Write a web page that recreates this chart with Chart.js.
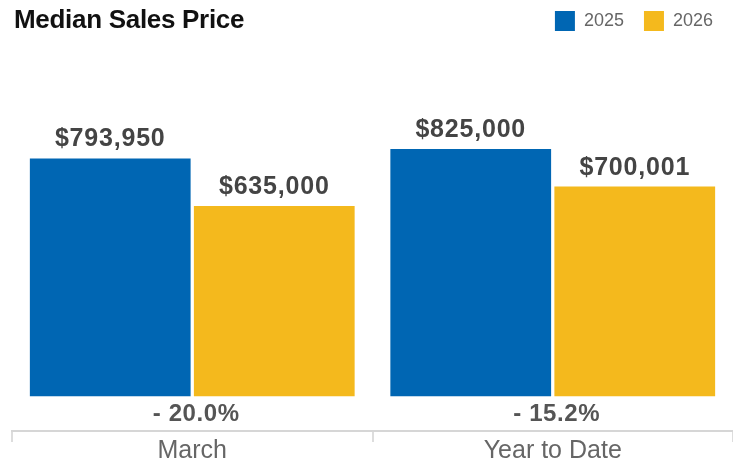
<!DOCTYPE html>
<html>
<head>
<meta charset="utf-8">
<script src="https://cdn.jsdelivr.net/npm/chart.js@4.4.1/dist/chart.umd.min.js"></script>
<style>
  html, body { margin: 0; padding: 0; background: #fff; }
  #wrap { position: relative; width: 733px; height: 464px; overflow: hidden; }
  #chart { position: absolute; left: 0; top: -9px; }
  #title { position: absolute; left: 14px; top: 6px; margin: 0;
    font-family: "Liberation Sans", Arial, sans-serif; font-weight: bold;
    font-size: 26px; line-height: 26px; letter-spacing: -0.3px; color: #111; z-index: 2; }
</style>
</head>
<body>
<div id="wrap">
  <div id="title">Median Sales Price</div>
  <canvas id="chart" width="733" height="473"></canvas>
</div>
<script>
const categories = ['March', 'Year to Date'];
const seriesNames = ['2025', '2026'];
const values2025 = [793950, 825000];
const values2026 = [635000, 700001];
const seriesColors = ['#0066b3', '#f4b91d'];

const fontFamily = '"Liberation Sans", Arial, Helvetica, sans-serif';

function money(v) { return '$' + v.toLocaleString('en-US'); }
function pctLabel(a, b) {
  const p = (b - a) / a * 100;
  return (p < 0 ? '- ' : '+ ') + Math.abs(p).toFixed(1) + '%';
}

const labelPlugin = {
  id: 'labels',
  afterDatasetsDraw(chart) {
    const ctx = chart.ctx;
    ctx.save();
    ctx.textAlign = 'center';
    ctx.textBaseline = 'alphabetic';
    ctx.fillStyle = '#444';
    ctx.font = 'bold 25px ' + fontFamily;
    ctx.letterSpacing = '0.8px';
    chart.data.datasets.forEach((ds, di) => {
      const meta = chart.getDatasetMeta(di);
      meta.data.forEach((bar, i) => {
        ctx.fillText(money(ds.data[i]), bar.x, bar.y - 12);
      });
    });
    const xs = chart.scales.x, ys = chart.scales.y;
    ctx.fillStyle = '#555';
    ctx.font = 'bold 24px ' + fontFamily;
    ctx.letterSpacing = '0.6px';
    categories.forEach((c, i) => {
      ctx.fillText(pctLabel(values2025[i], values2026[i]), xs.getPixelForValue(i) + 4, ys.getPixelForValue(0) + 25);
    });
    ctx.letterSpacing = '0px';
    ctx.restore();
  }
};

new Chart(document.getElementById('chart'), {
  type: 'bar',
  data: {
    labels: categories,
    datasets: [
      { label: seriesNames[0], data: values2025, backgroundColor: seriesColors[0] },
      { label: seriesNames[1], data: values2026, backgroundColor: seriesColors[1] }
    ]
  },
  options: {
    responsive: false,
    animation: false,
    devicePixelRatio: 1,
    layout: { padding: { top: 0, left: 12, right: 0, bottom: 4 } },
    datasets: { bar: { categoryPercentage: 0.91, barPercentage: 0.98 } },
    plugins: {
      legend: {
        position: 'top',
        align: 'end',
        labels: {
          boxWidth: 20, boxHeight: 20, padding: 20,
          color: '#666',
          font: { family: fontFamily, size: 18 }
        }
      },
      tooltip: { enabled: false }
    },
    scales: {
      x: {
        grid: { display: true, drawOnChartArea: false, drawTicks: true, tickLength: 11, color: '#dddddd', lineWidth: 2, offset: true },
        border: { display: true, color: '#d6d6d6', width: 2 },
        ticks: { color: '#666', padding: -6, font: { family: fontFamily, size: 25 } }
      },
      y: {
        display: false,
        min: -116300,
        max: 1185900
      }
    }
  },
  plugins: [labelPlugin]
});
</script>
</body>
</html>
